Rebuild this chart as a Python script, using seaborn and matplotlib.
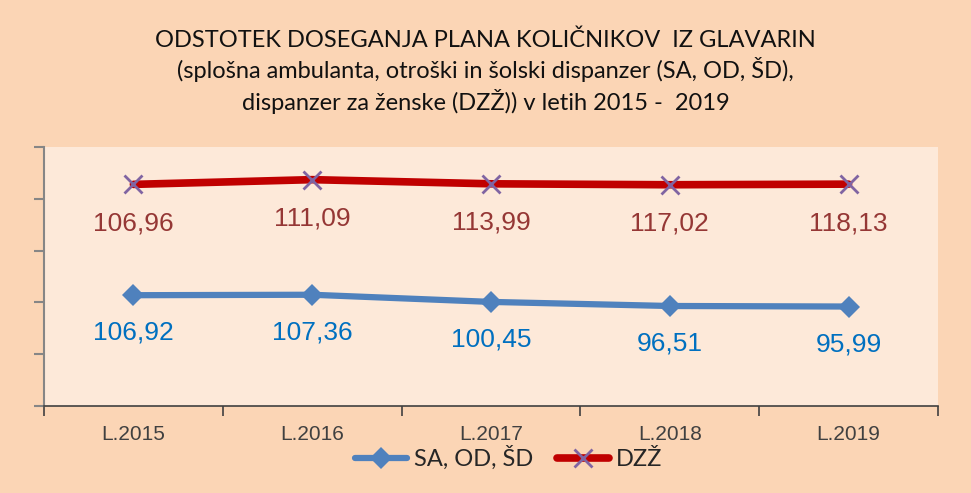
import numpy as np
import pandas as pd
import matplotlib
matplotlib.use("Agg")
import matplotlib.pyplot as plt
import seaborn as sns

# data
years = ["L.2015", "L.2016", "L.2017", "L.2018", "L.2019"]
sa_od_sd = [106.92, 107.36, 100.45, 96.51, 95.99]
dzz = [106.96, 111.09, 113.99, 117.02, 118.13]
y_ticks = [0, 50, 100, 150, 200, 250]

sns.set_theme(style="white")
plt.rcParams["font.family"] = ["Liberation Sans", "DejaVu Sans"]

OUTER_BG = "#FBD5B5"
PLOT_BG = "#FDE9D9"
BLUE = "#4F81BD"
RED = "#C00000"
PURPLE = "#8064A2"

# stacked line chart: DZZ line sits on top of SA, OD, ŠD
df = pd.DataFrame({"year": years, "x": range(len(years)),
                   "sa": sa_od_sd, "dzz": dzz})
df["dzz_stack"] = df["sa"] + df["dzz"]

fig = plt.figure(figsize=(9.71, 4.93), dpi=100, facecolor=OUTER_BG)
ax = fig.add_axes([0.0453, 0.1765, 0.9207, 0.5254])
ax.set_facecolor(PLOT_BG)

sns.lineplot(data=df, x="x", y="sa", ax=ax, color=BLUE, lw=4.5,
             marker="D", markersize=11, markeredgewidth=0,
             markerfacecolor=BLUE, label="SA, OD, ŠD")
sns.lineplot(data=df, x="x", y="dzz_stack", ax=ax, color=RED, lw=5.5,
             marker="x", markersize=13, markeredgewidth=2,
             markeredgecolor=PURPLE, label="DZŽ")

fmt = lambda v: f"{v:.2f}".replace(".", ",")
for i, row in df.iterrows():
    ax.annotate(fmt(row["sa"]), (row["x"], row["sa"]), xytext=(0, -27),
                textcoords="offset points", ha="center", va="center",
                fontsize=19, color="#0070C0")
    ax.annotate(fmt(row["dzz"]), (row["x"], row["dzz_stack"]), xytext=(0, -28),
                textcoords="offset points", ha="center", va="center",
                fontsize=19, color="#953735")

ax.set_xlim(-0.5, len(years) - 0.5)
ax.set_ylim(0, 250)
ax.set_yticks(y_ticks)
ax.set_yticklabels([])
ax.set_xticks(np.arange(len(years)))
ax.set_xticklabels(years, fontsize=15, color="#404040")
ax.set_xticks(np.arange(len(years) + 1) - 0.5, minor=True)
ax.tick_params(axis="x", which="major", length=0, pad=14)
ax.tick_params(axis="x", which="minor", length=7, width=1.2, color="#404040",
               direction="out", bottom=True)
ax.tick_params(axis="y", length=7, width=1.5, color="#868686",
               direction="out", left=True)
ax.set_xlabel("")
ax.set_ylabel("")

for s in ["top", "right"]:
    ax.spines[s].set_visible(False)
ax.spines["left"].set_color("#868686")
ax.spines["left"].set_linewidth(1.5)
ax.spines["bottom"].set_color("#404040")
ax.spines["bottom"].set_linewidth(1.2)

leg = ax.legend(loc="center", bbox_to_anchor=(0.52, -0.2), ncol=2,
                frameon=False, handlelength=2.2, columnspacing=1.0,
                handletextpad=0.3, prop={"family": "Lato", "size": 17})

fig.text(0.5, 0.94, "ODSTOTEK DOSEGANJA PLANA KOLIČNIKOV  IZ GLAVARIN\n"
         "(splošna ambulanta, otroški in šolski dispanzer (SA, OD, ŠD),\n"
         "dispanzer za ženske (DZŽ)) v letih 2015 -  2019",
         ha="center", va="top", fontsize=17, family="Lato",
         linespacing=1.3, color="#111111")

fig.savefig("out.png", dpi=100, facecolor=OUTER_BG)
